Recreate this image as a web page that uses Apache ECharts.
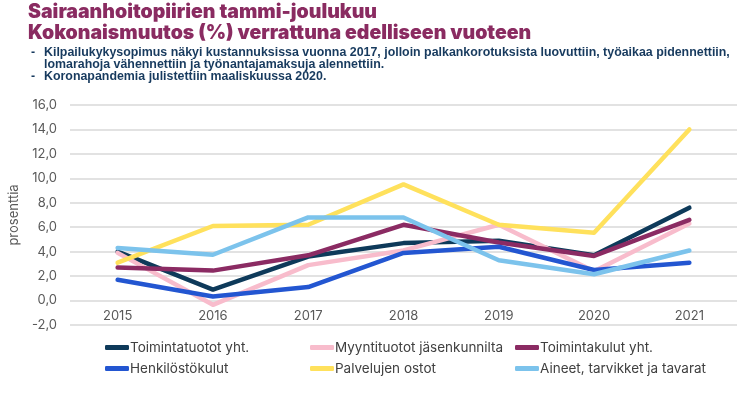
<!DOCTYPE html>
<html>
<head>
<meta charset="utf-8">
<script src="https://cdn.jsdelivr.net/npm/echarts@6/dist/echarts.min.js"></script>
<style>html,body{margin:0;padding:0;background:#fff}#c{width:752px;height:393px}</style>
</head>
<body>
<div id="c"></div>
<script>
const years = ['2015','2016','2017','2018','2019','2020','2021'];
const seriesNames = ['Toimintatuotot yht.','Myyntituotot jäsenkunnilta','Toimintakulut yht.','Henkilöstökulut','Palvelujen ostot','Aineet, tarvikket ja tavarat'];
const toimintatuotot = [4.0, 0.9, 3.6, 4.7, 4.9, 3.7, 7.6];
const myyntituotot = [3.9, -0.35, 2.9, 4.1, 6.2, 2.4, 6.3];
const toimintakulut = [2.7, 2.45, 3.7, 6.2, 4.75, 3.65, 6.6];
const henkilostokulut = [1.7, 0.33, 1.1, 3.9, 4.4, 2.5, 3.1];
const palvelujenOstot = [3.1, 6.1, 6.2, 9.5, 6.2, 5.55, 14.0];
const aineet = [4.3, 3.75, 6.8, 6.8, 3.3, 2.15, 4.1];
const yTicks = {min: -2, max: 16, interval: 2};
const titleLines = ['Sairaanhoitopiirien tammi-joulukuu', 'Kokonaismuutos (%) verrattuna edelliseen vuoteen'];
const noteLines = ['Kilpailukykysopimus näkyi kustannuksissa vuonna 2017, jolloin palkankorotuksista luovuttiin, työaikaa pidennettiin,', 'lomarahoja vähennettiin ja työnantajamaksuja alennettiin.', 'Koronapandemia julistettiin maaliskuussa 2020.'];
const axisName = 'prosenttia';

const colors = ['#0e3a5a', '#f8bccc', '#8b2b63', '#2356d1', '#ffe15c', '#7cc3ec'];
const allData = [toimintatuotot, myyntituotot, toimintakulut, henkilostokulut, palvelujenOstot, aineet];

const chart = echarts.init(document.getElementById('c'), null, {renderer: 'canvas'});
const legendCols = [[0,3],[1,4],[2,5]];
const legendLeft = [105, 310, 515];
chart.setOption({
  animation: false,
  color: colors,
  title: [
    {text: titleLines.join('\n'), left: 28, top: 2, padding: 0,
     textStyle: {fontFamily: 'Inter', fontWeight: 900, fontSize: 19.5, lineHeight: 21, color: '#8a2b61'}},
    {text: '-\n\n-', left: 31, top: 47, padding: 0,
     textStyle: {fontFamily: 'Liberation Sans', fontWeight: 'bold', fontSize: 12.4, lineHeight: 12, color: '#173a5e'}},
    {text: noteLines.join('\n'), left: 44, top: 47, padding: 0,
     textStyle: {fontFamily: 'Liberation Sans', fontWeight: 'bold', fontSize: 12.4, lineHeight: 12, color: '#173a5e'}}
  ],
  legend: legendCols.map((idx, i) => ({
    data: idx.map(k => seriesNames[k]),
    orient: 'vertical', left: legendLeft[i], top: 340, padding: 0,
    icon: 'roundRect', itemWidth: 24, itemHeight: 5, itemGap: 6,
    textStyle: {fontFamily: 'Inter', fontSize: 13.5, color: '#404040', lineHeight: 15, padding: [0,0,0,-4]}
  })),
  grid: {left: 70, right: 15, top: 105, bottom: 68},
  xAxis: {
    type: 'category', data: years, offset: -24.4,
    axisLine: {show: false},
    axisTick: {show: false},
    axisLabel: {margin: 9, fontFamily: 'Inter', fontSize: 13, color: '#595959'}
  },
  yAxis: {
    type: 'value', min: yTicks.min, max: yTicks.max, interval: yTicks.interval,
    name: axisName, nameLocation: 'middle', nameGap: 42,
    nameTextStyle: {fontFamily: 'Inter', fontSize: 13, color: '#595959'},
    axisLine: {show: false}, axisTick: {show: false},
    axisLabel: {margin: 13, fontFamily: 'Inter', fontSize: 13, color: '#595959',
      formatter: v => v.toFixed(1).replace('.', ',')},
    splitLine: {lineStyle: {color: '#d9d9d9', width: 1.5}}
  },
  series: allData.map((d, i) => ({
    name: seriesNames[i], type: 'line', data: d,
    symbol: 'none', lineStyle: {width: 4.5, cap: 'round', join: 'round'}
  }))
});
</script>
</body>
</html>
